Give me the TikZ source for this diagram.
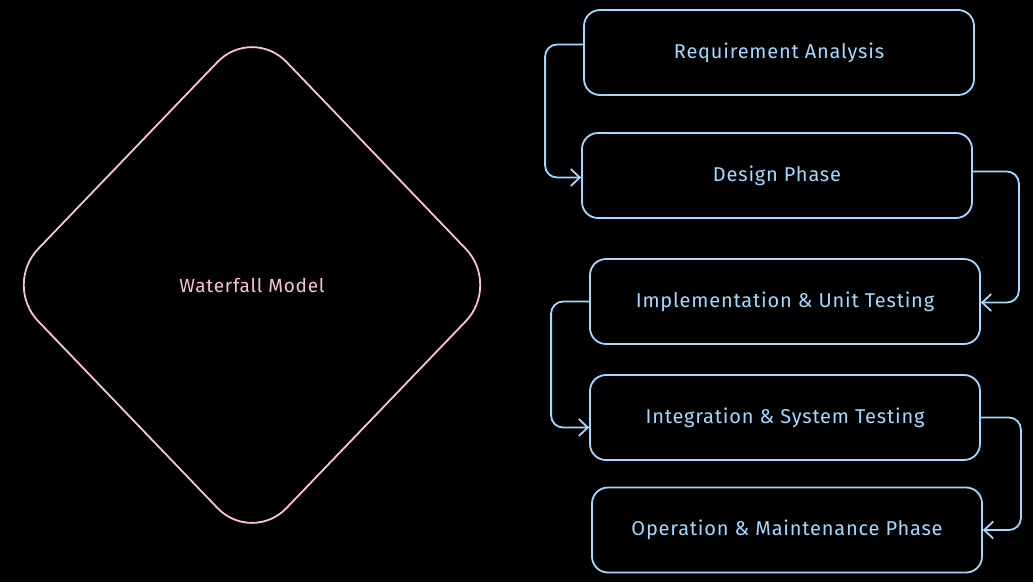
\documentclass[tikz,border=0pt]{standalone}
\usepackage{fontspec}
\setmainfont{Fira Sans}[LetterSpace=4]
\usetikzlibrary{arrows.meta}
\definecolor{boxblue}{HTML}{A5D8FF}
\definecolor{diapink}{HTML}{FCC2D7}
\tikzset{
  phase/.style={draw=boxblue, line width=1.8pt, rounded corners=16pt, minimum width=390pt, minimum height=85pt, text=boxblue, font=\fontsize{20}{24}\selectfont, inner sep=0pt},
  flow/.style={draw=boxblue, line width=1.8pt, rounded corners=12pt, -{Straight Barb[length=9pt,width=17pt,line width=1.8pt]}},
}
\begin{document}
\begin{tikzpicture}[x=1pt,y=-1pt]
\fill[black] (0,0) rectangle (1033,582);
\useasboundingbox (0,0) rectangle (1033,582);
% diamond
\draw[diapink, line width=1.8pt, rounded corners=50pt] (3.5,285) -- (252,26) -- (500.5,285) -- (252,544) -- cycle;
\node[text=diapink, font=\fontsize{19}{23}\selectfont] (wm) at (252,285) {Waterfall Model};
% phases
\node[phase] (r1) at (779,52.5) {Requirement Analysis};
\node[phase] (r2) at (777,175.5) {Design Phase};
\node[phase] (r3) at (785,301.5) {Implementation \& Unit Testing};
\node[phase] (r4) at (785,417.5) {Integration \& System Testing};
\node[phase] (r5) at (787,530) {Operation \& Maintenance Phase};
% connectors
\draw[flow] ([yshift=8pt]r1.west) -- ++(-38,0) |- ([yshift=-2pt]r2.west);
\draw[flow] ([yshift=4pt]r2.east) -- ++(46,0) |- ([yshift=-1pt]r3.east);
\draw[flow] (r3.west) -- ++(-38,0) |- ([yshift=-10pt]r4.west);
\draw[flow] (r4.east) -- ++(40,0) |- (r5.east);
\end{tikzpicture}
\end{document}
